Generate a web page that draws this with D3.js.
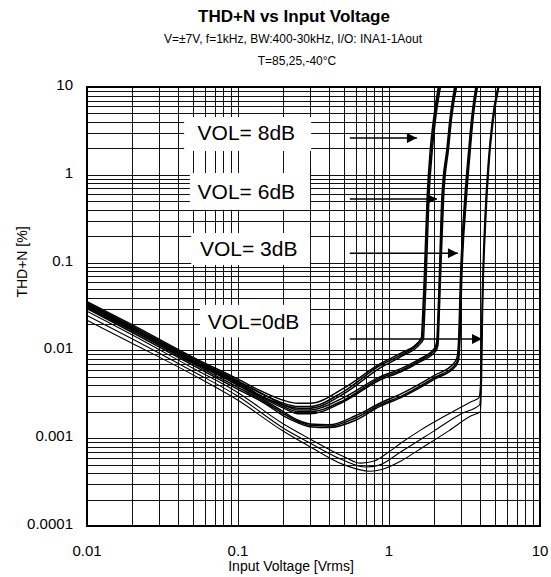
<!DOCTYPE html>
<html>
<head>
<meta charset="utf-8">
<script src="https://cdn.jsdelivr.net/npm/d3@7"></script>
<style>
  body { margin: 0; background: #fff; }
  text { font-family: "Liberation Sans", Arial, sans-serif; }
</style>
</head>
<body>
<div id="chart"></div>
<script>
// tick labels
var xTicks = [0.01, 0.1, 1, 10];
var xTickLabels = ["0.01", "0.1", "1", "10"];
var yTicks = [10, 1, 0.1, 0.01, 0.001, 0.0001];
var yTickLabels = ["10", "1", "0.1", "0.01", "0.001", "0.0001"];

// THD+N [%] vs input voltage [Vrms], three temperatures per volume setting
var vol8a = [[0.01,0.036],[0.02,0.0195],[0.05,0.0084],[0.1,0.0047],[0.15,0.0033],[0.2,0.0027],[0.25,0.0025],[0.3,0.0025],[0.5,0.0037],[0.87,0.0070],[1.2,0.0093],[1.55,0.0122],[1.64,0.014],[1.67,0.025],[1.71,0.063],[1.79,0.56],[1.88,2],[1.98,4.5],[2.12,10]];
var vol8b = [[0.01,0.034],[0.02,0.0185],[0.05,0.0080],[0.1,0.0044],[0.15,0.0031],[0.2,0.0025],[0.25,0.0023],[0.3,0.0023],[0.5,0.0034],[0.87,0.0067],[1.2,0.0089],[1.58,0.0122],[1.66,0.014],[1.69,0.025],[1.73,0.063],[1.81,0.56],[1.91,2],[2.01,4.5],[2.15,10]];
var vol8c = [[0.01,0.032],[0.02,0.0175],[0.05,0.0076],[0.1,0.0042],[0.15,0.0029],[0.2,0.0024],[0.25,0.0022],[0.3,0.0022],[0.5,0.0032],[0.87,0.0063],[1.2,0.0085],[1.6,0.0118],[1.69,0.0135],[1.72,0.025],[1.76,0.063],[1.84,0.56],[1.94,2],[2.04,4.5],[2.19,10]];

var vol6a = [[0.01,0.035],[0.02,0.0188],[0.05,0.0081],[0.1,0.0045],[0.15,0.0031],[0.2,0.0024],[0.25,0.0021],[0.3,0.0021],[0.5,0.0029],[0.87,0.0050],[1.2,0.0062],[1.6,0.0080],[2.0,0.0105],[2.07,0.0125],[2.11,0.025],[2.15,0.063],[2.24,0.56],[2.42,2],[2.54,4.5],[2.72,10]];
var vol6b = [[0.01,0.033],[0.02,0.0178],[0.05,0.0077],[0.1,0.0043],[0.15,0.0029],[0.2,0.0023],[0.25,0.0020],[0.3,0.0020],[0.5,0.0027],[0.87,0.0048],[1.2,0.0059],[1.6,0.0077],[2.02,0.0102],[2.09,0.012],[2.13,0.025],[2.17,0.063],[2.27,0.56],[2.45,2],[2.57,4.5],[2.76,10]];
var vol6c = [[0.01,0.031],[0.02,0.0168],[0.05,0.0073],[0.1,0.0041],[0.15,0.0028],[0.2,0.0022],[0.25,0.0019],[0.3,0.0019],[0.5,0.0026],[0.87,0.0046],[1.2,0.0057],[1.6,0.0074],[2.04,0.0098],[2.11,0.0115],[2.15,0.025],[2.19,0.063],[2.3,0.56],[2.48,2],[2.6,4.5],[2.8,10]];

var vol3a = [[0.01,0.033],[0.02,0.0178],[0.05,0.0075],[0.1,0.0040],[0.15,0.0027],[0.2,0.0020],[0.25,0.0016],[0.3,0.00145],[0.4,0.00142],[0.6,0.0018],[0.87,0.0025],[1.2,0.0032],[2.0,0.0052],[2.7,0.0072],[2.83,0.0085],[2.9,0.015],[2.97,0.063],[3.18,0.56],[3.38,2],[3.53,4.5],[3.76,10]];
var vol3b = [[0.01,0.031],[0.02,0.0168],[0.05,0.0071],[0.1,0.0038],[0.15,0.0026],[0.2,0.0019],[0.25,0.00155],[0.3,0.0014],[0.4,0.00137],[0.6,0.0017],[0.87,0.0024],[1.2,0.0030],[2.0,0.0049],[2.73,0.0068],[2.86,0.008],[2.93,0.015],[3.0,0.063],[3.22,0.56],[3.42,2],[3.57,4.5],[3.8,10]];
var vol3c = [[0.01,0.030],[0.02,0.0160],[0.05,0.0068],[0.1,0.0036],[0.15,0.0025],[0.2,0.0018],[0.25,0.0015],[0.3,0.00135],[0.4,0.00132],[0.6,0.0016],[0.87,0.0023],[1.2,0.0029],[2.0,0.0047],[2.76,0.0066],[2.89,0.0078],[2.96,0.015],[3.03,0.063],[3.26,0.56],[3.46,2],[3.61,4.5],[3.85,10]];

var vol0a = [[0.01,0.028],[0.02,0.015],[0.05,0.0063],[0.1,0.0033],[0.2,0.00145],[0.3,0.00098],[0.5,0.00062],[0.65,0.00052],[0.8,0.00055],[1.0,0.0007],[1.2,0.00088],[1.6,0.00122],[2.5,0.0019],[3.5,0.0026],[3.95,0.0029],[4.05,0.005],[4.12,0.03],[4.3,0.3],[4.55,1.5],[4.8,4],[5.25,10]];
var vol0b = [[0.01,0.025],[0.02,0.0135],[0.05,0.0058],[0.1,0.0030],[0.2,0.0013],[0.3,0.00088],[0.5,0.00056],[0.7,0.00047],[0.85,0.00049],[1.2,0.0007],[2.0,0.00122],[3.0,0.0019],[3.98,0.0024],[4.08,0.005],[4.15,0.03],[4.34,0.3],[4.59,1.5],[4.85,4],[5.3,10]];
var vol0c = [[0.01,0.022],[0.02,0.012],[0.05,0.0053],[0.1,0.0027],[0.2,0.0012],[0.3,0.0008],[0.5,0.0005],[0.75,0.00042],[0.9,0.00044],[1.2,0.00055],[1.6,0.00075],[2.5,0.00122],[3.5,0.0018],[4.02,0.002],[4.11,0.005],[4.18,0.03],[4.38,0.3],[4.63,1.5],[4.9,4],[5.35,10]];

var thickCurves = [vol8a, vol8b, vol8c, vol6a, vol6b, vol6c, vol3a, vol3b, vol3c];
var thinCurves = [vol0a, vol0b, vol0c];

// boxed labels: text, box left/right in Vrms, box top/bottom in %, text x start in Vrms
var labelTexts = ["VOL= 8dB", "VOL= 6dB", "VOL= 3dB", "VOL=0dB"];
var labelBoxV = [[0.044, 0.305], [0.048, 0.30], [0.049, 0.30], [0.056, 0.30]];
var labelBoxT = [[4.55, 1.87], [1.05, 0.40], [0.217, 0.094], [0.033, 0.0141]];
var labelTextV = [0.054, 0.054, 0.056, 0.063];
var labelTextT = [3.0, 0.64, 0.145, 0.0215];

// arrows: start V, tip V, level %
var arrowFromV = [0.55, 0.55, 0.55, 0.55];
var arrowToV = [1.53, 2.08, 2.86, 4.13];
var arrowT = [2.62, 0.53, 0.128, 0.0135];

var margin = {top: 87, right: 11, bottom: 51, left: 87},
    width = 551 - margin.left - margin.right,
    height = 577 - margin.top - margin.bottom;

var svg = d3.select("#chart").append("svg")
    .attr("width", 551)
    .attr("height", 577);

var x = d3.scaleLog().domain([0.01, 10]).range([0, width]);
var y = d3.scaleLog().domain([0.0001, 10]).range([height, 0]);

var g = svg.append("g")
    .attr("transform", "translate(" + margin.left + "," + margin.top + ")");

// grid lines at 1..9 of every decade
var xGrid = [], yGrid = [];
[0.01, 0.1, 1].forEach(function(dec) {
  for (var k = 1; k <= 9; k++) xGrid.push(dec * k);
});
[0.0001, 0.001, 0.01, 0.1, 1].forEach(function(dec) {
  for (var k = 1; k <= 9; k++) yGrid.push(dec * k);
});

g.selectAll("line.vgrid").data(xGrid).enter().append("line")
    .attr("class", "vgrid")
    .attr("x1", function(d) { return Math.round(x(d)) + 0.5; })
    .attr("x2", function(d) { return Math.round(x(d)) + 0.5; })
    .attr("y1", 0).attr("y2", height)
    .attr("stroke", "#111").attr("stroke-width", 1);

g.selectAll("line.hgrid").data(yGrid).enter().append("line")
    .attr("class", "hgrid")
    .attr("y1", function(d) { return Math.round(y(d)) + 0.5; })
    .attr("y2", function(d) { return Math.round(y(d)) + 0.5; })
    .attr("x1", 0).attr("x2", width)
    .attr("stroke", "#111").attr("stroke-width", 1);

// white boxes behind the VOL labels
g.selectAll("rect.lbl").data(labelTexts).enter().append("rect")
    .attr("class", "lbl")
    .attr("x", function(d, i) { return x(labelBoxV[i][0]); })
    .attr("width", function(d, i) { return x(labelBoxV[i][1]) - x(labelBoxV[i][0]); })
    .attr("y", function(d, i) { return y(labelBoxT[i][0]); })
    .attr("height", function(d, i) { return y(labelBoxT[i][1]) - y(labelBoxT[i][0]); })
    .attr("fill", "#fff");

g.selectAll("text.lbl").data(labelTexts).enter().append("text")
    .attr("class", "lbl")
    .attr("x", function(d, i) { return x(labelTextV[i]); })
    .attr("y", function(d, i) { return y(labelTextT[i]); })
    .attr("dy", "0.35em")
    .attr("font-size", 21)
    .text(function(d) { return d; });

// curves
var line = d3.line()
    .x(function(d) { return x(d[0]); })
    .y(function(d) { return y(d[1]); })
    .curve(d3.curveMonotoneX);

g.selectAll("path.thick").data(thickCurves).enter().append("path")
    .attr("class", "thick")
    .attr("d", line)
    .attr("fill", "none").attr("stroke", "#000").attr("stroke-width", 1.5);

g.selectAll("path.thin").data(thinCurves).enter().append("path")
    .attr("class", "thin")
    .attr("d", line)
    .attr("fill", "none").attr("stroke", "#000").attr("stroke-width", 1.1);

// arrows
svg.append("defs").append("marker")
    .attr("id", "arrow")
    .attr("viewBox", "0 0 10 10")
    .attr("refX", 10).attr("refY", 5)
    .attr("markerWidth", 11).attr("markerHeight", 10)
    .attr("markerUnits", "userSpaceOnUse")
    .attr("orient", "auto")
  .append("path")
    .attr("d", "M0,0 L10,5 L0,10 Z")
    .attr("fill", "#000");

g.selectAll("line.arrow").data(arrowT).enter().append("line")
    .attr("class", "arrow")
    .attr("x1", function(d, i) { return x(arrowFromV[i]); })
    .attr("x2", function(d, i) { return x(arrowToV[i]); })
    .attr("y1", function(d) { return y(d); })
    .attr("y2", function(d) { return y(d); })
    .attr("stroke", "#000").attr("stroke-width", 1.5)
    .attr("marker-end", "url(#arrow)");

// frame
g.append("rect")
    .attr("width", width).attr("height", height)
    .attr("fill", "none").attr("stroke", "#000").attr("stroke-width", 2);

// tick labels
g.selectAll("text.xt").data(xTicks).enter().append("text")
    .attr("class", "xt")
    .attr("x", function(d) { return x(d); })
    .attr("y", height + 30)
    .attr("text-anchor", "middle")
    .attr("font-size", 15)
    .text(function(d, i) { return xTickLabels[i]; });

g.selectAll("text.yt").data(yTicks).enter().append("text")
    .attr("class", "yt")
    .attr("x", -14)
    .attr("y", function(d) { return y(d); })
    .attr("dy", "0.2em")
    .attr("text-anchor", "end")
    .attr("font-size", 15)
    .text(function(d, i) { return yTickLabels[i]; });

// titles
svg.append("text")
    .attr("x", 294).attr("y", 22)
    .attr("text-anchor", "middle")
    .attr("font-size", 17).attr("font-weight", "bold")
    .text("THD+N vs Input Voltage");

svg.append("text")
    .attr("x", 293).attr("y", 43)
    .attr("text-anchor", "middle")
    .attr("font-size", 12)
    .text("V=±7V, f=1kHz, BW:400-30kHz, I/O: INA1-1Aout");

svg.append("text")
    .attr("x", 297).attr("y", 65)
    .attr("text-anchor", "middle")
    .attr("font-size", 12)
    .text("T=85,25,-40°C");

svg.append("text")
    .attr("transform", "translate(27,262) rotate(-90)")
    .attr("text-anchor", "middle")
    .attr("font-size", 14)
    .text("THD+N [%]");

svg.append("text")
    .attr("x", 291).attr("y", 571)
    .attr("text-anchor", "middle")
    .attr("font-size", 14)
    .text("Input Voltage [Vrms]");
</script>
</body>
</html>
